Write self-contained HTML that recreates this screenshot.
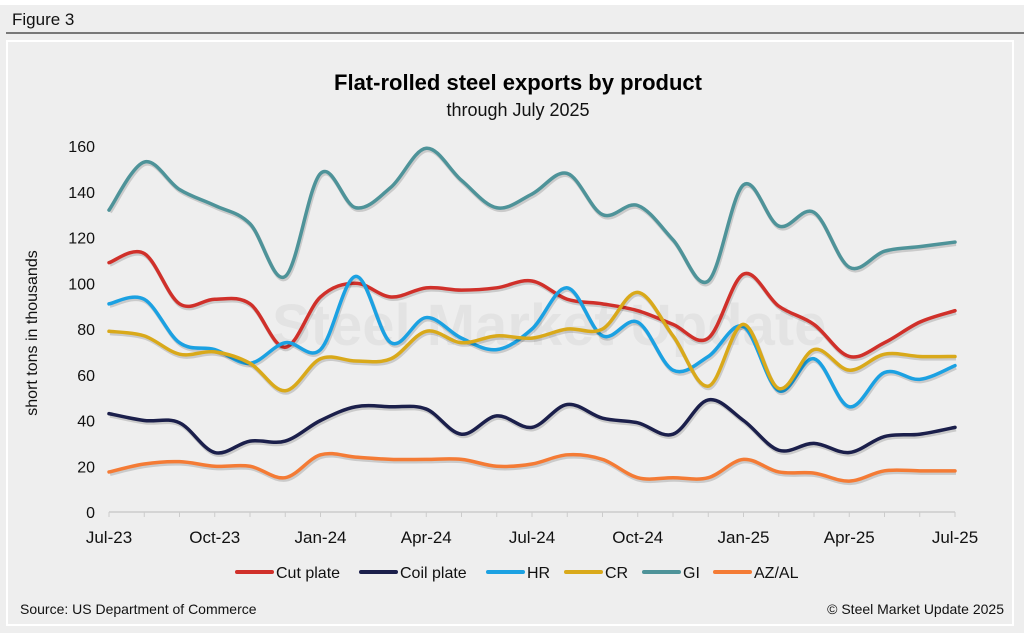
<!DOCTYPE html>
<html><head><meta charset="utf-8">
<style>
body{margin:0;background:#fff;}
#wrap{position:relative;width:1024px;height:633px;background:#eeeeee;overflow:hidden;font-family:"Liberation Sans",Arial,sans-serif;}
</style></head>
<body>
<div id="wrap">
<svg id="chart" width="1024" height="633" xmlns="http://www.w3.org/2000/svg">
  <rect x="0" y="0" width="1024" height="5" fill="#ffffff"/>
  <text x="12" y="25" font-size="17" fill="#111">Figure 3</text>
  <line x1="6" y1="33" x2="1024" y2="33" stroke="#333" stroke-width="1.2"/>
  <rect x="7" y="41" width="1006" height="584" fill="#eeeeee" stroke="#ffffff" stroke-width="2"/>
  <text x="518" y="90" font-size="22" font-weight="bold" text-anchor="middle" fill="#000">Flat-rolled steel exports by product</text>
  <text x="518" y="116" font-size="18" text-anchor="middle" fill="#111">through July 2025</text>
  <text transform="translate(37,333) rotate(-90)" font-size="16" text-anchor="middle" fill="#111">short tons in thousands</text>
  <text x="272" y="345" font-size="58" font-weight="bold" fill="#000" opacity="0.04">Steel Market Update</text>
  <g id="axes"></g>
  <g id="series"></g>
  <g id="legend"></g>
  <text x="20" y="614" font-size="14" fill="#111">Source: US Department of Commerce</text>
  <text x="1004" y="614" font-size="14" text-anchor="end" fill="#111">© Steel Market Update 2025</text>
</svg>
</div>
<script>
const months = ["Jul-23","Aug-23","Sep-23","Oct-23","Nov-23","Dec-23","Jan-24","Feb-24","Mar-24","Apr-24","May-24","Jun-24","Jul-24","Aug-24","Sep-24","Oct-24","Nov-24","Dec-24","Jan-25","Feb-25","Mar-25","Apr-25","May-25","Jun-25","Jul-25"];
const yTicks = [0,20,40,60,80,100,120,140,160];
const seriesNames = ["Cut plate","Coil plate","HR","CR","GI","AZ/AL"];
const cutPlate = [109,113,91,93,91,72,94,100,94,98,97,98,101,93,91,88,82,76,104,90,82,68,74,83,88];
const coilPlate = [43,40,39,26,31,31,40,46,46,45,34,42,37,47,41,39,34,49,40,27,30,26,33,34,37];
const hr = [91,93,74,71,65,74,71,103,74,85,76,71,80,98,77,83,62,68,81,53,67,46,61,58,64];
const cr = [79,77,69,70,65,53,67,66,67,79,74,77,76,80,80,96,77,55,82,54,71,62,69,68,68];
const gi = [132,153,141,134,126,103,148,133,142,159,145,133,139,148,130,134,119,101,143,125,131,107,114,116,118];
const azal = [17.5,21,22,20,20,15,25,24,23,23,23,20,21,25,23,15,15,15,23,17.5,17,13.5,18,18,18];
const seriesValues = [cutPlate,coilPlate,hr,cr,gi,azal];
const colors = ["#d0302a","#1b1f4b","#1ba1e2","#d9a91a","#4e9399","#f47b35"];

const NS="http://www.w3.org/2000/svg";
const x0=109, x1=955, yZero=512, yTop=146, yMax=160;
function xScale(i){return x0+(x1-x0)*i/(months.length-1);}
function yScale(v){return yZero-(yZero-yTop)*v/yMax;}
function mk(tag,attrs,parent){const e=document.createElementNS(NS,tag);for(const k in attrs)e.setAttribute(k,attrs[k]);parent.appendChild(e);return e;}

const axes=document.getElementById('axes');
const base=mk('line',{x1:x0,y1:yZero,x2:x1,y2:yZero,stroke:'#cccccc','stroke-width':1.5},axes);


yTicks.forEach(t=>{
  const tx=mk('text',{x:95,y:yScale(t)+6,'font-size':16,'text-anchor':'end',fill:'#111'},axes);
  tx.textContent=t;
  
  
});
months.forEach((m,i)=>{
  const tk=mk('line',{x1:xScale(i),y1:yZero,x2:xScale(i),y2:yZero+5,stroke:'#cccccc','stroke-width':1},axes);
  
  
  if(i%3===0){
    const tx=mk('text',{x:xScale(i),y:543,'font-size':17,'text-anchor':'middle',fill:'#111'},axes);
    tx.textContent=m;
    
    
  }
});

function smoothPath(vals){
  const p=vals.map((v,i)=>[xScale(i),yScale(v)]);
  let d=`M${p[0][0]},${p[0][1]}`;
  for(let i=0;i<p.length-1;i++){
    const a=p[Math.max(i-1,0)],b=p[i],c=p[i+1],e=p[Math.min(i+2,p.length-1)];
    const t=0.17;
    const c1=[b[0]+(c[0]-a[0])*t,b[1]+(c[1]-a[1])*t];
    const c2=[c[0]-(e[0]-b[0])*t,c[1]-(e[1]-b[1])*t];
    d+=` C${c1[0]},${c1[1]} ${c2[0]},${c2[1]} ${c[0]},${c[1]}`;
  }
  return d;
}
const sg=document.getElementById('series');
[4,0,2,3,1,5].forEach(k=>{
  const sh=mk('path',{d:smoothPath(seriesValues[k]),fill:'none',stroke:'#000','stroke-opacity':0.15,'stroke-width':4,transform:'translate(1,2)'},sg);
  
  
  const pth=mk('path',{d:smoothPath(seriesValues[k]),fill:'none',stroke:colors[k],'stroke-width':3.5,'stroke-linejoin':'round','stroke-linecap':'round'},sg);
  
  
});

const lg=document.getElementById('legend');
const legX=[237,361,488,566,644,715];
seriesNames.forEach((n,k)=>{
  const g=mk('g',{},lg);
  
  
  mk('line',{x1:legX[k],y1:572,x2:legX[k]+35,y2:572,stroke:colors[k],'stroke-width':4,'stroke-linecap':'round'},g);
  const tx=mk('text',{x:legX[k]+39,y:578,'font-size':16,fill:'#111'},g);
  tx.textContent=n;
});
</script>
</body></html>
